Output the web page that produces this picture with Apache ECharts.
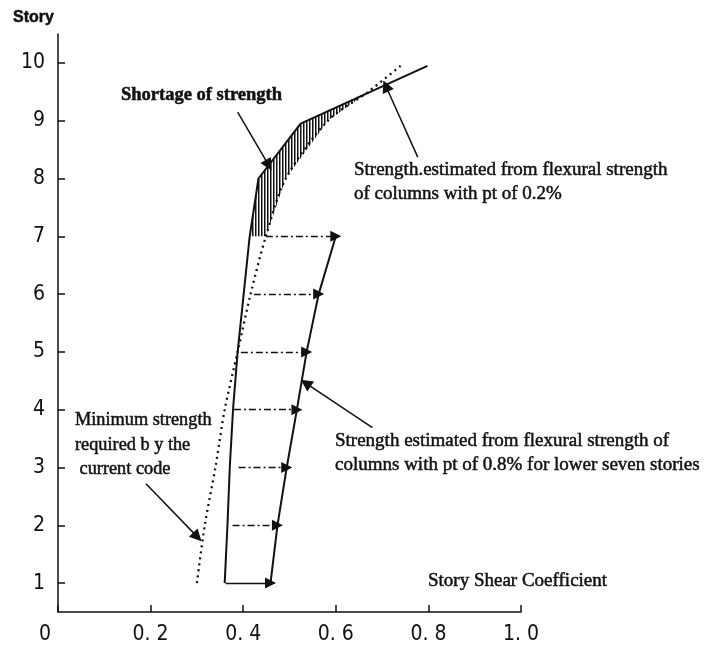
<!DOCTYPE html>
<html>
<head>
<meta charset="utf-8">
<script src="https://cdn.jsdelivr.net/npm/echarts@6/dist/echarts.min.js"></script>
<style>
html,body{margin:0;padding:0;background:#fff;}
#chart{width:710px;height:647px;}
</style>
</head>
<body>
<div id="chart"></div>
<script>
// ---- data ----
const storyTicks = [1, 2, 3, 4, 5, 6, 7, 8, 9, 10];
const coefTicks = [0, 0.2, 0.4, 0.6, 0.8, 1.0];

// Strength estimated from flexural strength of columns with pt of 0.2%
const storiesA = [1, 2, 3, 4, 5, 6, 7, 8, 8.95, 9.95];
const coefA = [0.360, 0.366, 0.371, 0.378, 0.388, 0.401, 0.414, 0.433, 0.524, 0.798];

// Strength estimated with pt of 0.8% for lower seven stories
const storiesB = [1, 2, 3, 4, 5, 6, 7];
const coefB = [0.459, 0.474, 0.494, 0.516, 0.537, 0.563, 0.600];

// Minimum strength required by the current code
const storiesReq = [1, 2, 3, 4, 5, 6, 7, 8, 9, 9.5, 9.95];
const coefReq = [0.300, 0.317, 0.340, 0.360, 0.388, 0.416, 0.449, 0.492, 0.583, 0.670, 0.740];

// horizontal increase arrows (start coefficient per story, end = coefB)
const arrowStories = [1, 2, 3, 4, 5, 6, 7];
const arrowStart = [0.362, 0.377, 0.390, 0.380, 0.395, 0.423, 0.449];

// shortage-of-strength band (between line A and required line)
const shortageFrom = 7;
const shortageTo = 9.5;

// annotation pointer arrows [tail, head] in (coefficient, story)
const pointerShortage = [[0.388, 9.15], [0.455, 8.23]];
const pointerA = [[0.777, 8.37], [0.708, 9.60]];
const pointerB = [[0.679, 3.69], [0.535, 4.46]];
const pointerReq = [[0.190, 2.72], [0.301, 1.80]];

// ---- build ----
const zip = (xs, ys) => xs.map((x, i) => [x, ys[i]]);

const hatch = document.createElement('canvas');
hatch.width = 3; hatch.height = 4;
const hctx = hatch.getContext('2d');
hctx.fillStyle = '#111';
hctx.fillRect(0, 0, 1.5, 4);

const bandPoly = [];
storiesA.forEach((s, i) => { if (s >= shortageFrom && s <= shortageTo) bandPoly.push([coefA[i], s]); });
for (let i = storiesReq.length - 1; i >= 0; i--) {
  const s = storiesReq[i];
  if (s >= shortageFrom && s <= shortageTo) bandPoly.push([coefReq[i], s]);
}

const hArrows = arrowStories.map((s, i) => ({
  coords: [[arrowStart[i], s], [coefB[i], s]],
  lineStyle: { type: i === 0 ? 'solid' : [7, 3, 2, 3] }
}));

const pointers = [pointerShortage, pointerA, pointerB, pointerReq].map(p => ({ coords: p }));

const serif = "'Liberation Serif','Times New Roman',serif";
const narrow = "'DejaVu Sans Condensed','Liberation Sans Narrow','Open Sans','Noto Sans',sans-serif";

function txt(text, x, y, font) {
  return { type: 'text', x: x, y: y, silent: true,
    style: { text: text, font: font, fill: '#111', align: 'left', verticalAlign: 'middle',
      stroke: '#111', lineWidth: 0.5 } };
}

const chart = echarts.init(document.getElementById('chart'), null, { renderer: 'canvas' });
chart.setOption({
  animation: false,
  backgroundColor: '#fff',
  grid: { left: 58, right: 189, top: 34, bottom: 35, containLabel: false },
  xAxis: {
    type: 'value', min: 0, max: 1.0, interval: 0.2,
    axisLine: { show: true, onZero: false, lineStyle: { color: '#111', width: 1.5 } },
    axisTick: { show: true, inside: true, length: 7, lineStyle: { color: '#111', width: 1.5 } },
    splitLine: { show: false },
    axisLabel: {
      margin: 12, color: '#111', fontSize: 21, fontFamily: narrow, fontWeight: 'condensed',
      formatter: v => v === 0 ? '{z|0}' : v.toFixed(1).replace('.', '. '),
      rich: { z: { fontSize: 21, fontFamily: narrow, fontWeight: 'condensed', color: '#111', padding: [0, 26, 0, 0] } }
    }
  },
  yAxis: {
    type: 'value', min: 0.5, max: 10.5,
    axisLine: { show: true, onZero: false, lineStyle: { color: '#111', width: 1.5 } },
    axisTick: { show: true, inside: true, length: 7, customValues: storyTicks, lineStyle: { color: '#111', width: 1.5 } },
    splitLine: { show: false },
    axisLabel: { customValues: storyTicks, margin: 13, color: '#111', fontSize: 21, fontFamily: narrow, fontWeight: 'condensed' }
  },
  series: [
    {
      type: 'custom', z: 1, silent: true,
      data: [[0.5, 8]],
      renderItem: (params, api) => ({
        type: 'polygon',
        shape: { points: bandPoly.map(p => api.coord(p)) },
        style: { fill: { image: hatch, repeat: 'repeat' }, stroke: null }
      })
    },
    {
      type: 'line', name: 'pt 0.2%', z: 3, data: zip(coefA, storiesA),
      showSymbol: false, symbol: 'none', lineStyle: { color: '#111', width: 2 }
    },
    {
      type: 'line', name: 'pt 0.8%', z: 3, data: zip(coefB, storiesB),
      showSymbol: false, symbol: 'none', lineStyle: { color: '#111', width: 2 }
    },
    {
      type: 'line', name: 'required', z: 2, data: zip(coefReq, storiesReq), smooth: 0.3,
      showSymbol: false, symbol: 'none', lineStyle: { color: '#111', width: 2.3, type: [2, 4] }
    },
    {
      type: 'lines', coordinateSystem: 'cartesian2d', z: 4, silent: true,
      symbol: ['none', 'triangle'], symbolSize: [7, 11],
      lineStyle: { color: '#111', width: 1.3, opacity: 1 },
      data: hArrows
    },
    {
      type: 'lines', coordinateSystem: 'cartesian2d', z: 4, silent: true,
      symbol: ['none', 'triangle'], symbolSize: [7, 12],
      lineStyle: { color: '#111', width: 1.5, opacity: 1, type: 'solid' },
      data: pointers
    }
  ],
  graphic: [
    txt('Story', 13, 18, "bold 16px 'Liberation Sans',Arial,sans-serif"),
    txt('Shortage of strength', 121, 95, 'bold 18.5px ' + serif),
    txt('Strength.estimated from flexural strength', 354, 170, '19px ' + serif),
    txt('of columns with pt of 0.2%', 354, 194, '19px ' + serif),
    txt('Strength estimated from flexural strength of', 335, 441, '19px ' + serif),
    txt('columns with pt of 0.8% for lower seven stories', 335, 465, '19px ' + serif),
    txt('Minimum strength', 75, 420, '18.3px ' + serif),
    txt('required b y the', 75, 445, '18.3px ' + serif),
    txt(' current code', 75, 469, '18.3px ' + serif),
    txt('Story Shear Coefficient', 428, 581, '19px ' + serif)
  ]
});
</script>
</body>
</html>
